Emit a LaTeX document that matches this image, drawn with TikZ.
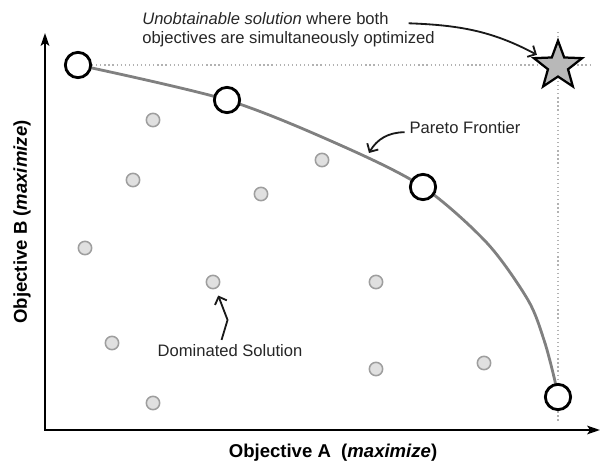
\documentclass[tikz,border=0pt]{standalone}
\usepackage{fontspec}
\setmainfont{Liberation Sans}
\usetikzlibrary{arrows.meta,shapes.geometric,backgrounds}
\begin{document}
\begin{tikzpicture}[x=0.025cm, y=-0.025cm,
    axis/.style={line width=1.8pt, {Stealth[length=9pt,width=6pt,inset=2pt]}-{Stealth[length=9pt,width=6pt,inset=2pt]}},
    pareto/.style={circle, draw, fill=white, line width=2pt, minimum size=18pt, inner sep=0pt},
    dom/.style={circle, draw=black!38, fill=black!12, line width=1.1pt, minimum size=9.5pt, inner sep=0pt},
    guide/.style={black!30, line width=0.9pt, dotted},
    note/.style={black!90, line width=1.3pt, -{Straight Barb[length=4.5pt,width=9pt]}},
    lbl/.style={font=\fontsize{11.8}{14}\selectfont, text=black!85},
    axlbl/.style={font=\fontsize{13.2}{16}\selectfont\bfseries}]
\useasboundingbox (0,0) rectangle (601,466);

% optimal points
\node[pareto] (p1) at (78,65) {};
\node[pareto] (p2) at (227,100) {};
\node[pareto] (p3) at (423,187) {};
\node[pareto] (p4) at (558,397) {};
\node[star, star points=5, star point ratio=2.4, draw, fill=black!28, line width=1.6pt,
      minimum size=36pt, inner sep=0pt] (star) at (558,66) {};

% dominated points
\foreach \px/\py [count=\i] in {153/120, 133/180, 261/194, 322/160, 85/248, 213/282,
                                376/282, 112/343, 376/369, 484/363, 153/403}
    \node[dom] (d\i) at (\px,\py) {};

\coordinate (hend) at (592,65);
\coordinate (vtop) at (558,32);
\coordinate (vbot) at (558,422);
\begin{scope}[on background layer]
\draw[guide] (p1) -- (hend);
\draw[guide] (vtop) -- (vbot);
\draw[gray, line width=2pt] plot[smooth, tension=0.5] coordinates
    {(p1.center) (p2.center) (340,145) (p3.center) (487,243) (528,300) (544,340) (554,377) (p4.center)};
\end{scope}

% axes
\coordinate (o) at (45,430);
\coordinate (xend) at (600,430);
\coordinate (yend) at (45,33);
\draw[axis] (yend) -- (o) -- (xend);
\node[axlbl] (xl) at (333,453) {Objective A\ \ (\textit{maximize})};
\node[axlbl, rotate=90] (yl) at (22,222) {Objective B (\textit{maximize})};

% notes
\node[lbl, anchor=base west, inner sep=0pt] (top1) at (142,25) {\textit{Unobtainable solution} where both};
\node[lbl, anchor=base west, inner sep=0pt] (top2) at (142,44) {objectives are simultaneously optimized};
\draw[note, shorten >=3pt] ([xshift=14pt, yshift=-3pt]top1.east) to[out=-2, in=152] (star);

\node[lbl] (pf) at (465,128) {Pareto Frontier};
\coordinate (pftip) at (369,153);
\draw[note] ([yshift=-3pt]pf.west) to[bend right=30] (pftip);

\node[lbl] (ds) at (230,351) {Dominated Solution};
\draw[note, line join=round, shorten >=5pt] ([xshift=-6pt]ds.north) -- ++(6,-20) -- (d6);
\end{tikzpicture}
\end{document}
